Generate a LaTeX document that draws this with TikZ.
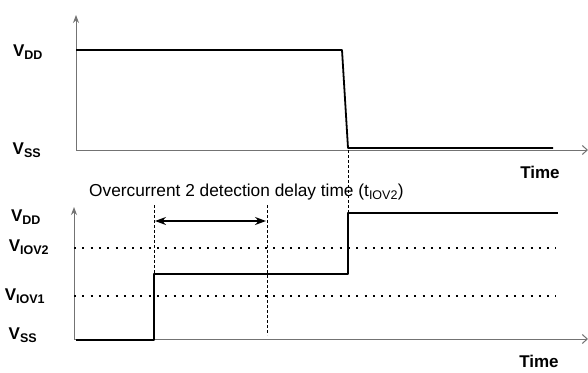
\documentclass[tikz,border=0pt]{standalone}
\usepackage{fontspec}
\setmainfont{Liberation Sans}
\usetikzlibrary{arrows.meta}
\tikzset{
  axis/.style={draw=black!55, line width=1pt},
  sig/.style={draw=black, line width=1.8pt, line join=round},
  level/.style={draw=black, line width=2pt, dash pattern=on 2pt off 6.3pt},
  guide/.style={draw=black, line width=1pt, dash pattern=on 2.5pt off 2.5pt},
  lbl/.style={font=\fontsize{17}{18}\selectfont\bfseries, inner sep=0pt},
  tlbl/.style={font=\fontsize{17}{19}\selectfont\bfseries, inner sep=0pt},
}
\newcommand{\vsub}[1]{V\textsubscript{\fontsize{12.5}{12.5}\selectfont #1}}
\begin{document}
\begin{tikzpicture}[x=1pt,y=-1pt]
\useasboundingbox (0,0) rectangle (588,372);
\fill[white] (0,0) rectangle (588,372);
% ---------- top plot ----------
\coordinate (o1) at (76,150);
\coordinate (y1) at (76,15);
\coordinate (x1) at (588,150);
\draw[axis,-{Stealth[length=8pt,width=6pt]}] (o1) -- (y1);
\draw[axis,-{Straight Barb[length=5pt,width=9pt]}] (o1) -- (x1);
\coordinate (a1) at (76,50);
\coordinate (a2) at (342,50);
\coordinate (a3) at (348,148);
\coordinate (a4) at (553,148);
\draw[sig] (a1) -- (a2) -- (a3) -- (a4);
\node[lbl] (tvdd) at (28,52) {\vsub{DD}};
\node[lbl] (tvss) at (27,150) {\vsub{SS}};
\node[tlbl] (ttime) at (540,172) {Time};
% ---------- bottom plot ----------
\coordinate (o2) at (74,339);
\coordinate (y2) at (74,207);
\coordinate (x2) at (588,339);
\draw[axis,-{Stealth[length=8pt,width=6pt]}] (o2) -- (y2);
\draw[axis,-{Straight Barb[length=5pt,width=9pt]}] (o2) -- (x2);
% levels
\coordinate (l2a) at (74,248);
\coordinate (l2b) at (556,248);
\coordinate (l1a) at (74,296);
\coordinate (l1b) at (556,296);
\draw[level] (l2a) -- (l2b);
\draw[level] (l1a) -- (l1b);
% signal
\coordinate (b1) at (76,340);
\coordinate (b2) at (154,340);
\coordinate (b3) at (154,274);
\coordinate (b4) at (348,274);
\coordinate (b5) at (348,213);
\coordinate (b6) at (558,213);
\draw[sig] (b1) -- (b2) -- (b3) -- (b4) -- (b5) -- (b6);
% guides
\coordinate (g1t) at (154,205);
\coordinate (g1b) at (154,339);
\coordinate (g2t) at (267,205);
\coordinate (g2b) at (267,335);
\coordinate (g3t) at (348,150);
\coordinate (g3b) at (348,213);
\draw[guide] (g1t) -- (g1b);
\draw[guide] (g2t) -- (g2b);
\draw[guide] (g3t) -- (g3b);
% delay arrow
\coordinate (d1) at (155,221);
\coordinate (d2) at (266,221);
\draw[line width=1.2pt,{Stealth[length=11pt,width=8pt]}-{Stealth[length=11pt,width=8pt]}] (d1) -- (d2);
\node[anchor=west, inner sep=0pt, font=\fontsize{17.3}{19}\selectfont] (delay) at (89,192) {Overcurrent 2 detection delay time (t\textsubscript{\fontsize{12.5}{12.5}\selectfont IOV2})};
% labels
\node[lbl] (bvdd) at (26,217) {\vsub{DD}};
\node[lbl] (bviov2) at (29,247) {\vsub{IOV2}};
\node[lbl] (bviov1) at (25,296) {\vsub{IOV1}};
\node[lbl] (bvss) at (23,335) {\vsub{SS}};
\node[tlbl] (btime) at (539,361) {Time};
\end{tikzpicture}
\end{document}
